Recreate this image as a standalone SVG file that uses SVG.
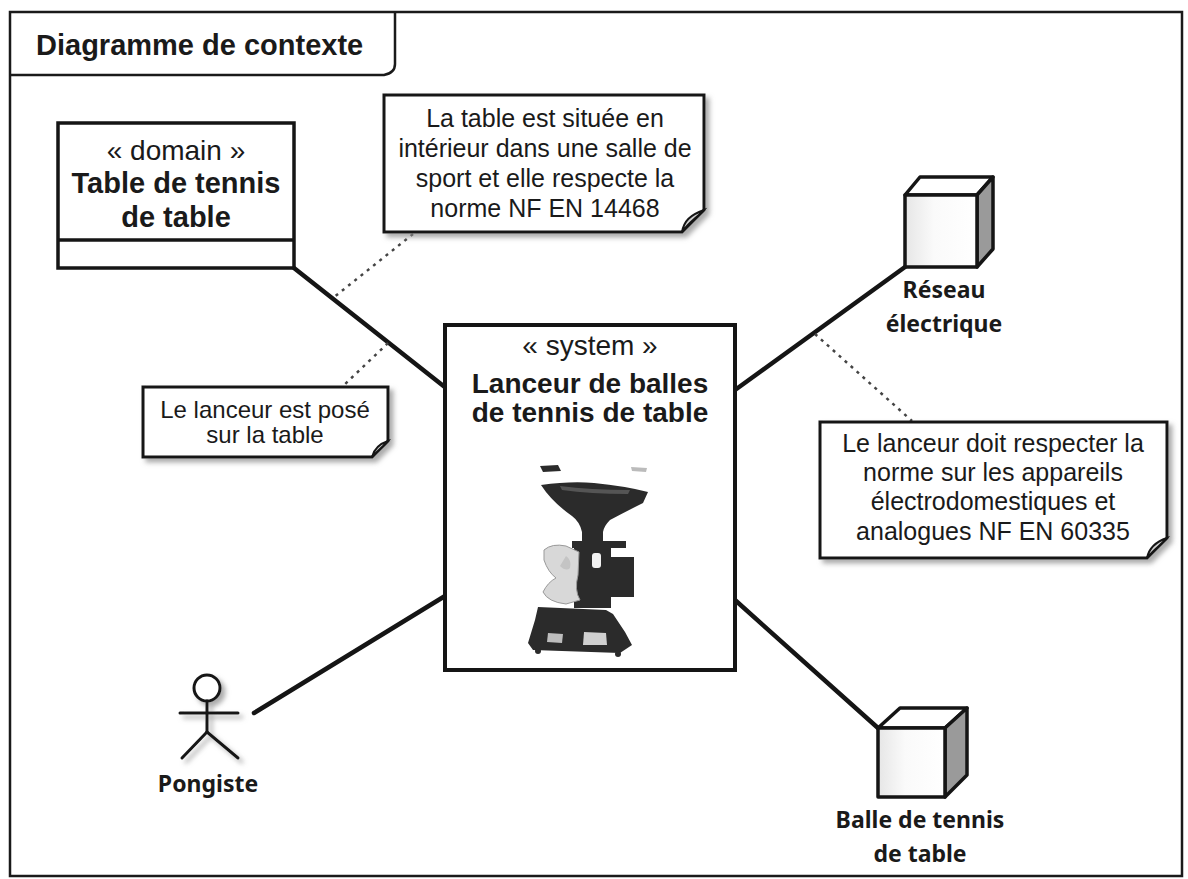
<svg xmlns="http://www.w3.org/2000/svg" width="1188" height="879" viewBox="0 0 1188 879">
<style>
.frame{fill:none;stroke:#1a1a1a;stroke-width:2.5}
.box{fill:#fff;stroke:#151515;stroke-width:3.5}
.note{fill:#fff;stroke:#151515;stroke-width:3}
.fold{fill:#cfcfcf;stroke:#151515;stroke-width:2}
.conn{stroke:#151515;stroke-width:4.5;fill:none;stroke-linecap:round}
.dot{stroke:#444;stroke-width:2.5;fill:none;stroke-dasharray:3 5}
.t{font-family:"Liberation Sans",Arial,sans-serif;fill:#1a1a1a;text-anchor:middle}
.tb{font-family:"Liberation Sans",Arial,sans-serif;font-weight:bold;fill:#1a1a1a;text-anchor:middle}
.lbl{font-family:"Noto Sans","Open Sans",sans-serif;font-weight:bold;font-size:23px;fill:#1a1a1a;text-anchor:middle}
.cube{stroke:#151515;stroke-width:3.5;stroke-linejoin:round}
.mach{fill:#2b2b2b}
</style>
<defs>
<filter id="sh" x="-10%" y="-10%" width="130%" height="140%">
<feDropShadow dx="4" dy="4" stdDeviation="2.5" flood-color="#888" flood-opacity="0.7"/>
</filter>
<linearGradient id="front" x1="0" y1="0" x2="1" y2="0">
<stop offset="0" stop-color="#e6e6e6"/>
<stop offset="0.4" stop-color="#fafafa"/>
<stop offset="1" stop-color="#fff"/>
</linearGradient>
</defs>
<rect width="1188" height="879" fill="#fff"/>

<g id="frame">
<rect class="frame" x="10" y="12" width="1172" height="864"/>
<path class="frame" d="M10,75 H384 Q395,73 395,64 V12"/>
<text class="tb" x="36" y="55" font-size="29" style="text-anchor:start">Diagramme de contexte</text>
</g>

<g id="connectors">
<line class="conn" x1="294" y1="268" x2="446" y2="388"/>
<line class="conn" x1="735" y1="390" x2="905" y2="267"/>
<line class="conn" x1="254" y1="713" x2="445" y2="596"/>
<line class="conn" x1="735" y1="600" x2="878" y2="728"/>
<line class="dot" x1="413" y1="234" x2="333" y2="298"/>
<line class="dot" x1="388" y1="343" x2="342" y2="387"/>
<line class="dot" x1="815" y1="334" x2="912" y2="421"/>
</g>

<g id="domain">
<rect class="box" x="58" y="123" width="236" height="145"/>
<line class="box" x1="58" y1="240" x2="294" y2="240"/>
<text class="t" x="176" y="160" font-size="28">« domain »</text>
<text class="tb" x="176" y="193" font-size="29">Table de tennis</text>
<text class="tb" x="176" y="227" font-size="29">de table</text>
</g>

<g id="note-table">
<path class="note" filter="url(#sh)" d="M384,95 H704 V210 L682,232 H384 Z"/>
<path class="fold" d="M682,232 C684,221 690,215 704,210 C698,217 690,221 682,232 Z"/>
<text class="t" font-size="25"><tspan x="545" y="127">La table est située en</tspan><tspan x="545" y="157">intérieur dans une salle de</tspan><tspan x="545" y="187">sport et elle respecte la</tspan><tspan x="545" y="217">norme NF EN 14468</tspan></text>
</g>

<g id="note-pose">
<path class="note" filter="url(#sh)" d="M143,387 H388 V441 L372,457 H143 Z"/>
<path class="fold" d="M372,457 C374,449 379,444 388,441 C383,447 378,450 372,457 Z"/>
<text class="t" font-size="24"><tspan x="265" y="418">Le lanceur est posé</tspan><tspan x="265" y="443">sur la table</tspan></text>
</g>

<g id="system">
<rect class="box" x="445" y="325" width="290" height="345" style="stroke-width:4"/>
<text class="t" x="590" y="355" font-size="28">« system »</text>
<text class="tb" x="590" y="393" font-size="28">Lanceur de balles</text>
<text class="tb" x="590" y="422" font-size="28">de tennis de table</text>
<g id="machine">
<path class="mach" d="M540,466 L558,465 L561,471 L543,472 Z"/>
<path fill="#bbb" d="M631,467 L647,468 L646,472 L632,471 Z"/>
<path class="mach" d="M541,485 Q570,481 594,483 Q625,486 648,492 L643,503 Q625,512 610,520 Q604,526 603,532 L582,532 Q580,522 572,516 Q552,502 541,485 Z"/>
<path fill="#555" d="M560,486 Q590,490 630,490 L628,494 Q590,494 562,490 Z"/>
<rect class="mach" x="582" y="520" width="21" height="26"/>
<rect class="mach" x="572" y="541" width="54" height="7"/>
<rect class="mach" x="574" y="546" width="37" height="62"/>
<rect class="mach" x="606" y="557" width="28" height="40"/>
<rect fill="#f2f2f2" x="592" y="553" width="9" height="15" rx="3"/>
<path fill="#d8d8d8" stroke="#999" stroke-width="1" d="M544,550 Q552,543 566,546 L579,552 L578,575 Q574,590 580,600 L566,604 Q548,602 543,592 Q548,582 556,578 Q548,572 544,560 Z"/>
<path fill="#c4c4c4" d="M566,556 Q572,560 570,568 Q566,572 560,566 Z"/>
<path class="mach" d="M538,607 L606,610 L613,614 L625,632 L632,645 L620,653 L533,650 L528,643 L535,620 Z"/>
<path fill="#bdbdbd" d="M548,633 L563,634 L562,643 L547,642 Z"/>
<path fill="#d0d0d0" d="M584,632 L606,633 L607,645 L583,645 Z"/>
<circle class="mach" cx="538" cy="651" r="3"/>
<circle class="mach" cx="618" cy="654" r="3"/>
</g>
</g>

<g id="reseau">
<path class="cube" fill="#fff" d="M905,195 L920,177 L993,177 L977,195 Z"/>
<path class="cube" fill="#9a9a9a" d="M977,195 L993,177 L993,249 L977,267 Z"/>
<rect class="cube" fill="url(#front)" x="905" y="195" width="72" height="72"/>
<text class="lbl" x="944" y="298">Réseau</text>
<text class="lbl" x="944" y="332">électrique</text>
</g>

<g id="note-norme">
<path class="note" filter="url(#sh)" d="M820,422 H1167 V538 L1147,558 H820 Z"/>
<path class="fold" d="M1147,558 C1149,548 1155,542 1167,538 C1161,545 1154,549 1147,558 Z"/>
<text class="t" font-size="25"><tspan x="993" y="452">Le lanceur doit respecter la</tspan><tspan x="993" y="481">norme sur les appareils</tspan><tspan x="993" y="510">électrodomestiques et</tspan><tspan x="993" y="540">analogues NF EN 60335</tspan></text>
</g>

<g id="pongiste">
<g filter="url(#sh)" fill="none" stroke="#151515" stroke-width="3" stroke-linecap="round">
<circle cx="207" cy="688" r="13" fill="#fff"/>
<line x1="207" y1="701" x2="207" y2="732"/>
<line x1="180" y1="713" x2="238" y2="713"/>
<line x1="207" y1="732" x2="182" y2="758"/>
<line x1="207" y1="732" x2="238" y2="758"/>
</g>
<text class="lbl" x="208" y="792">Pongiste</text>
</g>

<g id="balle">
<path class="cube" fill="#fff" d="M878,728 L900,708 L967,708 L945,728 Z"/>
<path class="cube" fill="#9a9a9a" d="M945,728 L967,708 L967,775 L945,797 Z"/>
<rect class="cube" fill="url(#front)" x="878" y="728" width="67" height="69"/>
<text class="lbl" x="920" y="828">Balle de tennis</text>
<text class="lbl" x="920" y="862">de table</text>
</g>
</svg>
